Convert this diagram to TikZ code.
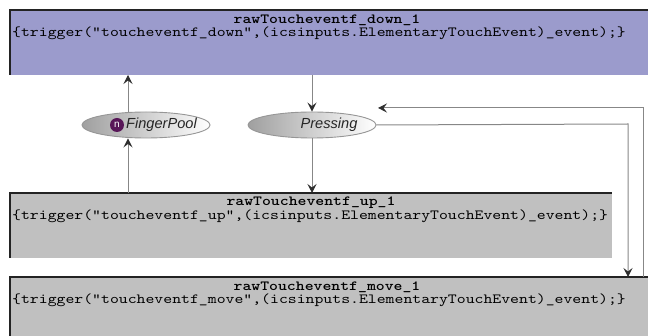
\documentclass[tikz,border=0pt]{standalone}
\usepackage{fontspec}
\setsansfont{Liberation Sans}
\newfontfamily\codefam{lmmono10-regular}[Extension=.otf, BoldFont=lmmonolt10-bold, FakeStretch=1.21]
\usetikzlibrary{arrows.meta,shapes.geometric,calc}

\definecolor{downfill}{RGB}{155,155,204}
\definecolor{boxgray}{RGB}{192,192,192}
\definecolor{edgedark}{RGB}{35,35,35}
\definecolor{wire}{RGB}{135,135,135}
\definecolor{tipdark}{RGB}{45,45,45}
\definecolor{poolpurple}{RGB}{88,22,88}
\definecolor{ringgray}{RGB}{150,150,150}

\newcommand\codefont{\codefam\fontsize{14}{14}\selectfont}
\newcommand\statefont{\sffamily\itshape\fontsize{14.6}{15}\selectfont}

\tikzset{
  evbox/.style={rectangle, inner sep=0pt, outer sep=0pt, anchor=north west, draw=none},
  boxedge/.style={draw=edgedark, line width=2pt},
  titletext/.style={inner sep=0pt, font=\codefont\bfseries},
  codetext/.style={inner sep=0pt, anchor=west, font=\codefont},
  statebubble/.style={ellipse, draw=ringgray, line width=0.9pt, inner sep=0pt,
    minimum width=128pt, minimum height=26pt, left color=gray!75, right color=white,
    shading angle=90},
  statetext/.style={inner sep=0pt, font=\statefont, text=black!85},
  wirearrow/.style={draw=wire, line width=1pt,
    -{Stealth[length=9pt, width=9pt, inset=3.5pt, color=tipdark]}},
  poolicon/.style={circle, fill=poolpurple, inner sep=0pt, minimum size=14pt,
    font=\sffamily\fontsize{10}{10}\selectfont, text=white}
}

\begin{document}
\begin{tikzpicture}[x=1pt, y=-1pt]
  \useasboundingbox (0,0) rectangle (648,336);

  % event boxes
  \node[evbox, fill=downfill, minimum width=638pt, minimum height=65pt] (down) at (10,10) {};
  \node[evbox, fill=boxgray, minimum width=602pt, minimum height=65pt] (up) at (10,193) {};
  \node[evbox, fill=boxgray, minimum width=638pt, minimum height=62pt] (move) at (10,277) {};
  \foreach \b in {down,up,move}
    \draw[boxedge] (\b.south west) -- (\b.north west) -- (\b.north east);

  % box texts
  \node[titletext] (downT) at (327,20) {rawToucheventf\_down\_1};
  \node[codetext] (downC) at (12,33) {\{trigger("toucheventf\_down",(icsinputs.ElementaryTouchEvent)\_event);\}};
  \node[titletext] (upT) at (311,203) {rawToucheventf\_up\_1};
  \node[codetext] (upC) at (12,216.5) {\{trigger("toucheventf\_up",(icsinputs.ElementaryTouchEvent)\_event);\}};
  \node[titletext] (moveT) at (327,287) {rawToucheventf\_move\_1};
  \node[codetext] (moveC) at (12,300.5) {\{trigger("toucheventf\_move",(icsinputs.ElementaryTouchEvent)\_event);\}};

  % states
  \node[statebubble] (fp) at (146,125) {};
  \node[poolicon] (fpIcon) at (117,125) {n};
  \node[statetext, anchor=west] (fpT) at (126,125) {FingerPool};
  \node[statebubble] (pr) at (312,125) {};
  \node[statetext] (prT) at (329,125) {Pressing};

  % routing columns
  \coordinate (colL) at (128,0);
  \coordinate (colR) at (628,124);
  \coordinate (colO) at (643,108);
  \coordinate (retTip) at (378,108);

  % connectors
  \draw[wirearrow] (up.north -| colL) -- (fp.south -| colL);
  \draw[wirearrow] (fp.north -| colL) -- (down.south -| colL);
  \draw[wirearrow] (down.south -| pr.north) -- (pr.north);
  \draw[wirearrow] (pr.south) -- (up.north -| pr.south);
  \draw[wirearrow] (pr.east) -- (colR) -- (move.north -| colR);
  \draw[wirearrow] (move.north -| colO) -- (colO) -- (retTip);
\end{tikzpicture}
\end{document}
